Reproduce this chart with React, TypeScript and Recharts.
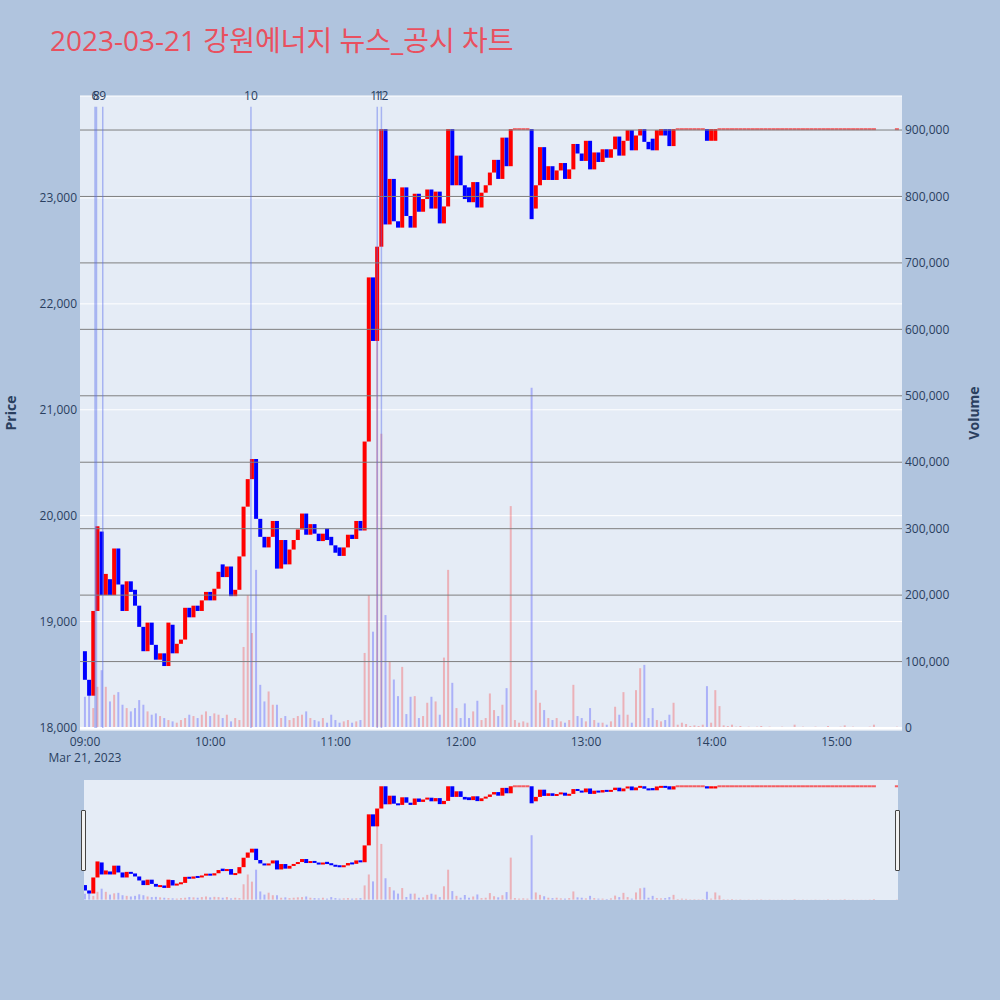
import React from "react";
import {
  Bar,
  CartesianGrid,
  Cell,
  ComposedChart,
  ReferenceLine,
  XAxis,
  YAxis,
} from "recharts";

const FONT = '"Open Sans", "Noto Sans CJK KR", sans-serif';
const INK = "#2a3f5f";
const TITLE = "2023-03-21 강원에너지 뉴스_공시 차트";
const DATE_LABEL = "Mar 21, 2023";

// 2-minute candles from 09:00, last one is the 15:30 closing auction
const STEP_MINUTES = 2;
const CLOSING_AUCTION_MINUTE = 389;

const opens = [
  18720, 18450, 18300, 19100, 19850, 19250, 19400, 19250, 19690, 19350,
  19100, 19380, 19300, 19150, 18950, 18720, 18990, 18780, 18640, 18700,
  18580, 18970, 18700, 18790, 18830, 19130, 19040, 19150, 19100, 19200,
  19280, 19200, 19310, 19540, 19420, 19520, 19240, 19300, 19615, 20085,
  20345, 20535, 19970, 19800, 19700, 19800, 19950, 19500, 19770, 19540,
  19680, 19770, 19870, 20020, 19820, 19920, 19830, 19760, 19880, 19800,
  19720, 19700, 19620, 19700, 19820, 19780, 19950, 19860, 20700, 22250,
  21650, 22540, 23650, 22750, 23180, 22780, 22720, 23100, 22830, 22720,
  23040, 22870, 22990, 23080, 22900, 23060, 22760, 22920, 23650, 23120,
  23400, 23120, 23100, 22960, 23150, 22910, 23050, 23120, 23240, 23360,
  23180, 23570, 23300, 23650, 23650, 23650, 23650, 23650, 22900, 23120,
  23480, 23170, 23300, 23170, 23260, 23330, 23180, 23270, 23510, 23420,
  23350, 23540, 23270, 23430, 23340, 23460, 23380, 23460, 23580, 23400,
  23540, 23640, 23450, 23590, 23650, 23530, 23560, 23450, 23590, 23650,
  23650, 23490, 23650, 23650, 23650, 23650, 23650, 23650, 23650, 23650,
  23540, 23540, 23650, 23650, 23650, 23650, 23650, 23650, 23650, 23650,
  23650, 23650, 23650, 23650, 23650, 23650, 23650, 23650, 23650, 23650,
  23650, 23650, 23650, 23650, 23650, 23650, 23650, 23650, 23650, 23650,
  23650, 23650, 23650, 23650, 23650, 23650, 23650, 23650, 23650, 23650,
  23650,
];

const closes = [
  18450, 18300, 19100, 19900, 19250, 19450, 19250, 19690, 19350, 19100,
  19380, 19280, 19150, 18950, 18720, 18990, 18780, 18640, 18700, 18580,
  18990, 18700, 18790, 18830, 19130, 19040, 19150, 19100, 19200, 19280,
  19200, 19310, 19470, 19420, 19520, 19240, 19300, 19615, 20085, 20345,
  20535, 19970, 19800, 19700, 19800, 19950, 19500, 19770, 19540, 19680,
  19770, 19870, 20020, 19820, 19920, 19830, 19760, 19830, 19770, 19720,
  19650, 19620, 19700, 19820, 19780, 19950, 19860, 20700, 22250, 21650,
  22540, 23650, 22750, 23180, 22780, 22720, 23100, 22830, 22720, 23040,
  22870, 22990, 23080, 22900, 23060, 22760, 22920, 23650, 23120, 23400,
  23120, 22990, 22960, 23150, 22910, 23050, 23120, 23240, 23360, 23180,
  23570, 23300, 23650, 23650, 23650, 23650, 23650, 22800, 23120, 23480,
  23170, 23300, 23170, 23260, 23330, 23180, 23270, 23510, 23420, 23350,
  23540, 23270, 23430, 23340, 23460, 23380, 23460, 23580, 23400, 23540,
  23640, 23450, 23590, 23650, 23530, 23460, 23450, 23640, 23650, 23590,
  23490, 23650, 23650, 23650, 23650, 23650, 23650, 23650, 23650, 23540,
  23650, 23650, 23650, 23650, 23650, 23650, 23650, 23650, 23650, 23650,
  23650, 23650, 23650, 23650, 23650, 23650, 23650, 23650, 23650, 23650,
  23650, 23650, 23650, 23650, 23650, 23650, 23650, 23650, 23650, 23650,
  23650, 23650, 23650, 23650, 23650, 23650, 23650, 23650, 23650, 23650,
  23650,
];

const volumes = [
  47000, 72000, 30000, 62000, 87000, 62000, 40000, 50000, 54000, 35000,
  30000, 25000, 30000, 42000, 35000, 25000, 20000, 22000, 18000, 15000,
  12000, 10000, 8000, 12000, 15000, 20000, 18000, 15000, 20000, 25000,
  18000, 22000, 20000, 15000, 20000, 10000, 15000, 12000, 122000, 200000,
  143000, 238000, 65000, 40000, 55000, 35000, 35000, 15000, 18000, 12000,
  15000, 18000, 20000, 25000, 15000, 12000, 10000, 15000, 8000, 20000,
  12000, 8000, 10000, 12000, 8000, 10000, 12000, 113000, 200000, 145000,
  720000, 443000, 170000, 100000, 73000, 48000, 92000, 21000, 47000, 48000,
  15000, 18000, 38000, 47000, 40000, 20000, 106000, 238000, 68000, 30000,
  15000, 37000, 15000, 25000, 41000, 12000, 15000, 52000, 27000, 18000,
  35000, 60000, 334000, 12000, 8000, 10000, 8000, 512000, 57000, 38000,
  27000, 15000, 12000, 15000, 10000, 8000, 12000, 65000, 18000, 15000,
  10000, 30000, 12000, 8000, 8000, 5000, 10000, 32000, 20000, 54000,
  20000, 8000, 57000, 90000, 95000, 15000, 30000, 12000, 10000, 12000,
  20000, 38000, 5000, 8000, 6000, 3000, 4000, 3000, 5000, 63000,
  8000, 57000, 33000, 4000, 3000, 5000, 2000, 3000, 1000, 2000,
  1000, 2000, 3000, 1000, 2000, 1000, 1000, 2000, 1000, 1000,
  5000, 1000, 2000, 1000, 1000, 2000, 1000, 1000, 3000, 1000,
  1000, 2000, 4000, 1000, 2000, 1000, 1000, 1000, 2000, 5000,
  2000,
];

// news / disclosure markers
const newsIds = ["6", "8", "9", "10", "11", "12"];
const newsMinutes = [4.8, 5.5, 8.5, 79.5, 140, 142];
const NEWS_LINE_TOP = 935000;

const priceTicks = [18000, 19000, 20000, 21000, 22000, 23000];
const volumeTicks = [0, 100000, 200000, 300000, 400000, 500000, 600000, 700000, 800000, 900000];
const timeTicks = [0, 60, 120, 180, 240, 300, 360];
const timeLabels = ["09:00", "10:00", "11:00", "12:00", "13:00", "14:00", "15:00"];

const PRICE_DOMAIN = [17976, 23963];
const VOLUME_DOMAIN = [-3000, 951200];

const rows = opens.map((open, i) => {
  const close = closes[i];
  return {
    t: i === opens.length - 1 ? CLOSING_AUCTION_MINUTE : i * STEP_MINUTES,
    body: [Math.min(open, close), Math.max(open, close)],
    up: close >= open,
    flat: close === open,
    volume: volumes[i],
  };
});

const fmt = (v: number) => v.toLocaleString("en-US");

function Candle(props: any) {
  const { x, y, width, height, payload } = props;
  if (x == null || y == null) return null;
  const color = payload.up ? "#ff0000" : "#0000ff";
  if (payload.flat || height < 2) {
    return (
      <rect
        x={x}
        y={y + height / 2 - 1}
        width={width}
        height={2}
        fill={color}
        fillOpacity={payload.flat ? 0.6 : 1}
      />
    );
  }
  return <rect x={x} y={y} width={width} height={height} fill={color} />;
}

function TimeTick({ x, y, payload }: any) {
  const i = timeTicks.indexOf(payload.value);
  return (
    <g fontFamily={FONT} fontSize={12} fill={INK} textAnchor="middle">
      <text x={x} y={y + 16}>{timeLabels[i]}</text>
      {i === 0 && <text x={x} y={y + 32}>{DATE_LABEL}</text>}
    </g>
  );
}

function NewsLabel({ viewBox, text }: any) {
  if (!viewBox) return null;
  return (
    <text
      x={viewBox.x}
      y={viewBox.y - 11}
      textAnchor="middle"
      dominantBaseline="central"
      fontFamily={FONT}
      fontSize={12}
      fill={INK}
    >
      {text}
    </text>
  );
}

const volumeFill = (up: boolean) => (up ? "rgba(255,0,0,0.25)" : "rgba(0,0,255,0.25)");
const tickStyle = { fill: INK, fontSize: 12, fontFamily: FONT };

export default function App() {
  return (
    <div
      style={{
        position: "fixed",
        left: 0,
        top: 0,
        width: 1000,
        height: 1000,
        background: "#b0c4de",
        fontFamily: FONT,
        overflow: "hidden",
      }}
    >
      <div
        style={{
          position: "absolute",
          left: 50,
          top: 19,
          fontSize: 28,
          color: "#e9505f",
          whiteSpace: "nowrap",
        }}
      >
        {TITLE}
      </div>

      {/* plot backgrounds */}
      <div style={{ position: "absolute", left: 80, top: 96, width: 822, height: 634, background: "#e5ecf6" }} />
      <div style={{ position: "absolute", left: 84, top: 780, width: 814, height: 120, background: "#e5ecf6" }} />

      <div
        style={{
          position: "absolute",
          left: 10,
          top: 413,
          transform: "translate(-50%, -50%) rotate(-90deg)",
          fontSize: 14,
          fontWeight: 700,
          color: INK,
        }}
      >
        Price
      </div>
      <div
        style={{
          position: "absolute",
          left: 973,
          top: 413,
          transform: "translate(-50%, -50%) rotate(-90deg)",
          fontSize: 14,
          fontWeight: 700,
          color: INK,
        }}
      >
        Volume
      </div>

      <div style={{ position: "absolute", left: 0, top: 0 }}>
        <ComposedChart width={1000} height={772} data={rows} margin={{ top: 96, right: 0, bottom: 12, left: 0 }}>
          <XAxis
            dataKey="t"
            type="number"
            domain={[-2.4, 391.4]}
            ticks={timeTicks}
            allowDataOverflow
            axisLine={false}
            tickLine={false}
            tickSize={0}
            tickMargin={0}
            height={30}
            tick={<TimeTick />}
          />
          <XAxis xAxisId="v" dataKey="t" type="number" domain={[-2.4, 391.4]} hide allowDataOverflow />
          <YAxis
            type="number"
            domain={PRICE_DOMAIN}
            ticks={priceTicks}
            allowDataOverflow
            width={80}
            axisLine={false}
            tickLine={false}
            tickSize={0}
            tickMargin={3}
            tickFormatter={fmt}
            tick={tickStyle}
          />
          <YAxis
            yAxisId="vol"
            orientation="right"
            type="number"
            domain={VOLUME_DOMAIN}
            ticks={volumeTicks}
            allowDataOverflow
            width={98}
            axisLine={false}
            tickLine={false}
            tickSize={0}
            tickMargin={3}
            tickFormatter={fmt}
            tick={tickStyle}
          />
          <CartesianGrid vertical={false} stroke="#ffffff" strokeWidth={1} />
          {volumeTicks.slice(1).map((v) => (
            <ReferenceLine key={v} y={v} yAxisId="vol" stroke="#7f7f7f" strokeWidth={1} />
          ))}
          <Bar dataKey="volume" xAxisId="v" yAxisId="vol" barSize={2} isAnimationActive={false}>
            {rows.map((r) => (
              <Cell key={r.t} fill={volumeFill(r.up)} />
            ))}
          </Bar>
          <ReferenceLine y={0} yAxisId="vol" stroke="#ffffff" strokeWidth={2} />
          <Bar dataKey="body" barSize={4} isAnimationActive={false} shape={<Candle />} />
          {newsMinutes.map((m, i) => (
            <ReferenceLine
              key={newsIds[i]}
              yAxisId="vol"
              segment={[
                { x: m, y: 0 },
                { x: m, y: NEWS_LINE_TOP },
              ]}
              stroke="rgba(90,110,235,0.45)"
              strokeWidth={1.5}
              label={<NewsLabel text={newsIds[i]} />}
            />
          ))}
        </ComposedChart>
      </div>

      {/* range slider */}
      <div style={{ position: "absolute", left: 0, top: 780 }}>
        <ComposedChart width={1000} height={120} data={rows} margin={{ top: 0, right: 102, bottom: 0, left: 84 }}>
          <XAxis dataKey="t" type="number" domain={[-0.5, 389.5]} hide allowDataOverflow />
          <XAxis xAxisId="v" dataKey="t" type="number" domain={[-0.5, 389.5]} hide allowDataOverflow />
          <YAxis type="number" domain={PRICE_DOMAIN} hide allowDataOverflow />
          <YAxis yAxisId="vol" type="number" domain={VOLUME_DOMAIN} hide allowDataOverflow />
          <Bar dataKey="volume" xAxisId="v" yAxisId="vol" barSize={2} isAnimationActive={false}>
            {rows.map((r) => (
              <Cell key={r.t} fill={volumeFill(r.up)} />
            ))}
          </Bar>
          <Bar dataKey="body" barSize={4} isAnimationActive={false} shape={<Candle />} />
        </ComposedChart>
      </div>

      {/* slider handles */}
      <div style={{ position: "absolute", left: 81, top: 810, width: 3, height: 59, background: "#f2f2f2", border: "1px solid #444", borderRadius: 1 }} />
      <div style={{ position: "absolute", left: 895, top: 810, width: 3, height: 59, background: "#f2f2f2", border: "1px solid #444", borderRadius: 1 }} />
    </div>
  );
}
